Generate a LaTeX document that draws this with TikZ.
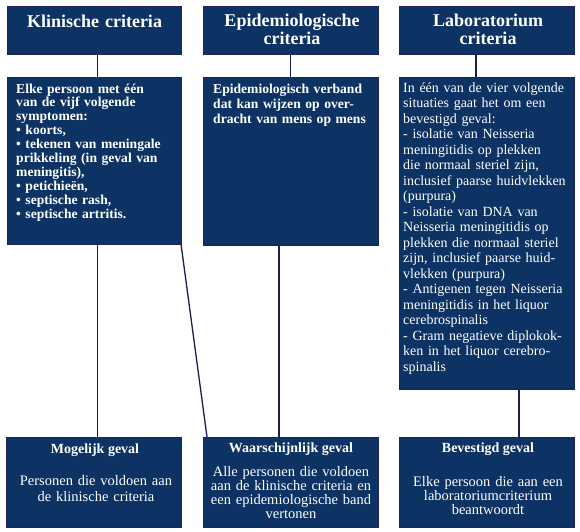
\documentclass[tikz,border=0pt]{standalone}
\usepackage{fontspec}
\setmainfont{Liberation Serif}
\usetikzlibrary{calc}
\definecolor{navy}{RGB}{12,51,99}
\definecolor{edgecol}{RGB}{30,34,96}
\definecolor{linecol}{RGB}{22,30,84}
\begin{document}
\begin{tikzpicture}[x=1pt,y=-1pt,
  box/.style={rectangle, draw=edgecol, fill=navy, line width=0.7pt, inner sep=0pt, outer sep=0pt, anchor=north west},
  conn/.style={draw=linecol, line width=1.3pt},
  hdr/.style={text=white, font=\bfseries\fontsize{18}{18.5}\selectfont, text width=175pt, align=center, inner sep=0pt, anchor=base},
  bodyb/.style={text=white, font=\bfseries\fontsize{13.6}{13.9}\selectfont, text width=180pt, align=left, inner sep=0pt, anchor=base west},
  bodyr/.style={text=white, font=\fontsize{14}{15.5}\selectfont, text width=180pt, align=left, inner sep=0pt, anchor=base west},
  ttl/.style={text=white, font=\bfseries\fontsize{14}{14}\selectfont, align=center, inner sep=0pt, anchor=base},
  cnt/.style={text=white, font=\fontsize{14.5}{15}\selectfont, text width=185pt, align=center, inner sep=0pt, anchor=base}
]
\useasboundingbox (0,0) rectangle (580,531);

% header boxes
\node[box, minimum width=174pt, minimum height=48pt] (kh) at (7,6) {};
\node[box, minimum width=175pt, minimum height=48pt] (eh) at (203,6) {};
\node[box, minimum width=175pt, minimum height=48pt] (lh) at (399,6) {};
% body boxes
\node[box, minimum width=174pt, minimum height=167pt] (kb) at (7,77) {};
\node[box, minimum width=175pt, minimum height=168pt] (eb) at (203,77) {};
\node[box, minimum width=175pt, minimum height=312pt] (lb) at (399,77) {};
% result boxes
\node[box, minimum width=175pt, minimum height=90pt] (mb) at (6,437) {};
\node[box, minimum width=175pt, minimum height=90pt] (wb) at (203,437) {};
\node[box, minimum width=175pt, minimum height=90pt] (bb) at (399,437) {};

% connectors
\draw[conn] ([xshift=3.5pt]kh.south) -- ([xshift=3.5pt]kh.south |- kb.north);
\draw[conn] ([xshift=3.5pt]kb.south) -- ([xshift=3.5pt]kb.south |- mb.north);
\draw[conn] (kb.south east) -- ([xshift=4pt]wb.north west);
\draw[conn] (eh.south) -- (eh.south |- eb.north);
\draw[conn] ([xshift=-11.5pt]eb.south) -- ([xshift=-11.5pt]eb.south |- wb.north);
\draw[conn] ([xshift=-10.5pt]lh.south) -- ([xshift=-10.5pt]lh.south |- lb.north);
\draw[conn] ([xshift=32.5pt]lb.south) -- ([xshift=32.5pt]lb.south |- bb.north);

% header texts
\node[hdr] (kht) at (94.5,27) {Klinische criteria};
\node[hdr] (eht) at (292,26) {Epidemiologische\\criteria};
\node[hdr] (lht) at (488,26) {Laboratorium\\criteria};

% body texts
\node[bodyb] (kbt) at (16,93) {Elke persoon met één\\
van de vijf volgende\\
symptomen:\\
• koorts,\\
• tekenen van meningale\\
prikkeling (in geval van\\
meningitis),\\
• petichieën,\\
• septische rash,\\
• septische artritis.};

\node[bodyb, font=\bfseries\fontsize{13.6}{15}\selectfont] (ebt) at (213,93) {Epidemiologisch verband\\
dat kan wijzen op over-\\
dracht van mens op mens};

\node[bodyr] (lbt) at (403,92) {In één van de vier volgende\\
situaties gaat het om een\\
bevestigd geval:\\
- isolatie van Neisseria\\
meningitidis op plekken\\
die normaal steriel zijn,\\
inclusief paarse huidvlekken\\
(purpura)\\
- isolatie van DNA van\\
Neisseria meningitidis op\\
plekken die normaal steriel\\
zijn, inclusief paarse huid-\\
vlekken (purpura)\\
- Antigenen tegen Neisseria\\
meningitidis in het liquor\\
cerebrospinalis\\
- Gram negatieve diplokok-\\
ken in het liquor cerebro-\\
spinalis};

% result texts
\node[ttl] (mbt) at (95,453) {Mogelijk geval};
\node[cnt, font=\fontsize{14.5}{16}\selectfont] (mbc) at (96,485) {Personen die voldoen aan\\de klinische criteria};
\node[ttl] (wbt) at (291,452) {Waarschijnlijk geval};
\node[cnt, font=\fontsize{14.5}{14.2}\selectfont] (wbc) at (291,476) {Alle personen die voldoen\\aan de klinische criteria en\\een epidemiologische band\\vertonen};
\node[ttl] (bbt) at (488,452) {Bevestigd geval};
\node[cnt, font=\fontsize{14.5}{14}\selectfont] (bbc) at (488,486) {Elke persoon die aan een\\laboratoriumcriterium\\beantwoordt};
\end{tikzpicture}
\end{document}
